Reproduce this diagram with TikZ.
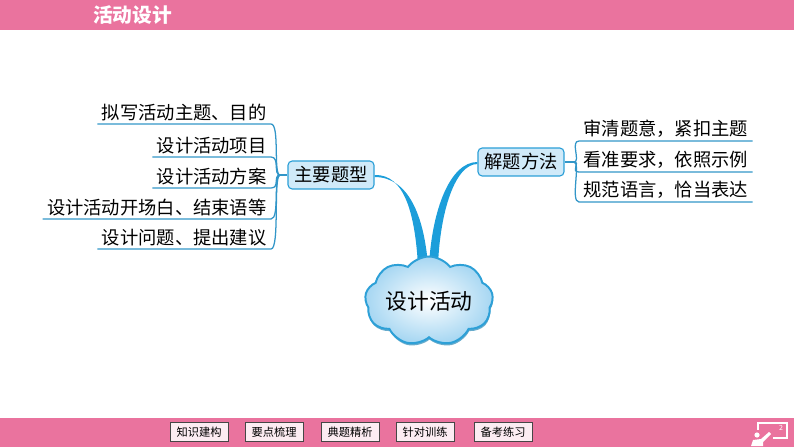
\documentclass[tikz,border=0pt]{standalone}
\usepackage{fontspec}
\setmainfont{Noto Sans CJK SC}
\usetikzlibrary{positioning,calc,backgrounds,shapes.symbols,shadows}
\definecolor{slidePink}{RGB}{234,115,158}
\definecolor{mapBlue}{RGB}{28,158,218}
\definecolor{lineBlue}{RGB}{50,150,200}
\definecolor{boxFill}{RGB}{208,234,249}
\definecolor{boxEdge}{RGB}{45,160,215}
\definecolor{cloudFill}{RGB}{165,214,242}
\definecolor{navFill}{RGB}{252,236,242}

\begin{document}
\begin{tikzpicture}[x=0.025cm,y=-0.025cm,
    typebox/.style={draw=boxEdge,fill=boxFill,rounded corners=3pt,line width=0.8pt,minimum width=2.15cm,minimum height=0.7cm,inner sep=0pt,font=\fontsize{13}{15}\selectfont},
    leaf/.style={font=\fontsize{13}{15}\selectfont,inner xsep=3pt,inner ysep=2pt},
    twig/.style={draw=lineBlue,line width=0.9pt},
    navbtn/.style={draw=gray!55!black,fill=navFill,minimum width=1.45cm,minimum height=0.47cm,inner sep=0pt,font=\fontsize{8}{9}\selectfont}]
        \useasboundingbox (0,0) rectangle (794,447);
        % header and footer bands
        \fill[slidePink] (0,0) rectangle (794,30);
        \fill[slidePink] (0,418) rectangle (794,447);
        \node[white,font=\fontsize{14}{16}\selectfont\bfseries,anchor=west,inner sep=0pt] (title) at (93,15) {活动设计};
        % centre and branches
        \node[cloud,cloud puffs=9,cloud puff arc=105,aspect=1.7,draw=boxEdge,line width=1.4pt,inner color=white,outer color=cloudFill,inner sep=0pt,minimum width=3.0cm,minimum height=1.85cm,font=\fontsize{15.5}{18}\selectfont,drop shadow={shadow xshift=0.4pt,shadow yshift=-1.6pt,fill=boxEdge!85!black,opacity=0.7}] (act) at (429,301) {设计活动};
        \node[typebox] (typ) at (331,175) {主要题型};
        \node[typebox] (way) at (521,162) {解题方法};
        \coordinate (jl) at (280,175);
        \coordinate (jr) at (574,162);
        \begin{scope}[on background layer]
          \fill[mapBlue] (typ.east) .. controls (405,174) and (415,215) .. ($(act.north)+(-11,10)$)
            -- ($(act.north)+(-1,10)$) .. controls (424,215) and (408,177) .. ($(typ.east)+(0,2)$) -- cycle;
          \fill[mapBlue] (way.west) .. controls (450,162) and (432,210) .. ($(act.north)+(0,10)$)
            -- ($(act.north)+(9,10)$) .. controls (440,212) and (455,164) .. ($(way.west)+(0,2)$) -- cycle;
        \end{scope}
        % left leaves
        \foreach \i/\y/\txt in {1/124/拟写活动主题、目的,2/157/设计活动项目,3/188/设计活动方案,4/219/设计活动开场白、结束语等,5/249/设计问题、提出建议} {
          \node[leaf,anchor=south east] (t\i) at (271,\y) {\txt};
          \draw[twig] (t\i.south west) -- (t\i.south east) .. controls +(9,0) and +(-7,0) .. (jl);
        }
        \draw[twig] (jl) -- (typ.west);
        % right leaves
        \foreach \i/\y/\txt in {1/141/审清题意，紧扣主题,2/172/看准要求，依照示例,3/202/规范语言，恰当表达} {
          \node[leaf,anchor=south west] (w\i) at (579,\y) {\txt};
          \draw[twig] (jr) .. controls +(7,0) and +(-9,0) .. (w\i.south west) -- (w\i.south east);
        }
        \draw[twig] (way.east) -- (jr);
        % footer buttons
        \foreach \i/\x/\txt in {1/199/知识建构,2/274/要点梳理,3/350/典题精析,4/425/针对训练,5/503/备考练习}
          \node[navbtn] (b\i) at (\x,432) {\txt};
        % presenter icon
        \draw[white,line width=1pt] (758,430) -- (758,423) -- (787,423) -- (787,438) -- (773,438);
        \fill[white] (757,435) circle (0.065cm);
        \fill[white] (751,446) -- (753,440) -- (761,439) -- (769,432) -- (771,434) -- (763,442) -- (763,446) -- cycle;
        \node[white,font=\fontsize{5}{6}\selectfont,inner sep=0pt] (pg) at (781,428) {2};
      \end{tikzpicture}
\end{document}
